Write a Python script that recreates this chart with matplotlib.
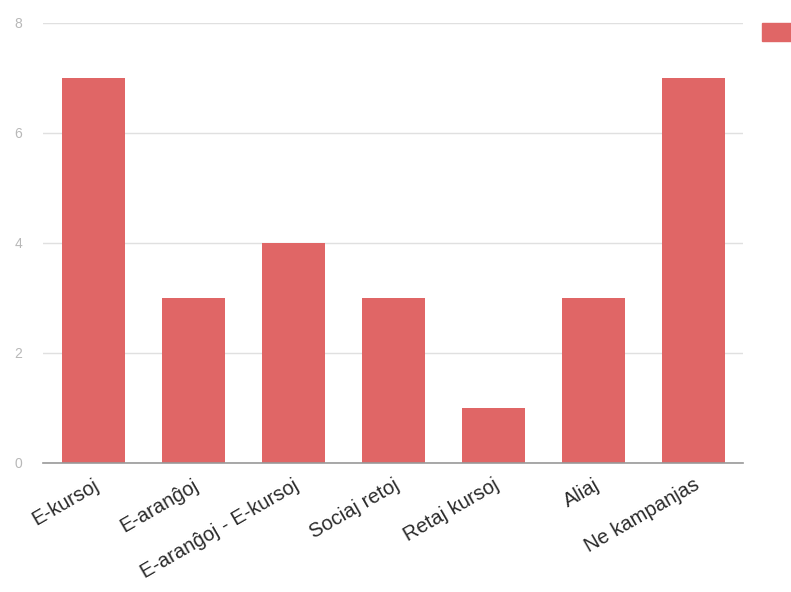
import matplotlib.pyplot as plt
from matplotlib.patches import Rectangle

categories = ['E-kursoj', 'E-aranĝoj', 'E-aranĝoj - E-kursoj', 'Sociaj retoj',
              'Retaj kursoj', 'Aliaj', 'Ne kampanjas']
values = [7, 3, 4, 3, 1, 3, 7]
yticks = [0, 2, 4, 6, 8]

bar_color = '#e06666'

plt.rcParams['font.family'] = ['Liberation Sans', 'DejaVu Sans']

fig = plt.figure(figsize=(7.91, 5.92), dpi=100)
ax = fig.add_axes([43 / 791, 1 - 463 / 592, 700 / 791, 440 / 592])

x = list(range(len(categories)))
ax.bar(x, values, width=0.63, color=bar_color, zorder=3)

ax.set_xlim(-0.5, len(categories) - 0.5)
ax.set_ylim(0, 8)
ax.set_yticks(yticks)
ax.set_yticklabels([str(t) for t in yticks], color='#b8b8b8', fontsize=10)
ax.tick_params(axis='y', length=0, pad=15)
ax.grid(axis='y', color='#e0e0e0', linewidth=1, zorder=0)

ax.set_xticks(x)
ax.set_xticklabels(categories, rotation=30, ha='right', rotation_mode='anchor',
                   fontsize=14.5, color='#2a2a2a')
ax.tick_params(axis='x', length=0, pad=9)

for side in ['top', 'right', 'left']:
    ax.spines[side].set_visible(False)
ax.spines['bottom'].set_color('#999999')
ax.spines['bottom'].set_linewidth(1.2)
ax.spines['bottom'].set_zorder(4)

# legend swatch (label cut off in the original)
fig.patches.append(Rectangle((762 / 791, 1 - 41 / 592), 29 / 791, 18 / 592,
                             transform=fig.transFigure, color=bar_color))

fig.savefig('out.png', dpi=100)
